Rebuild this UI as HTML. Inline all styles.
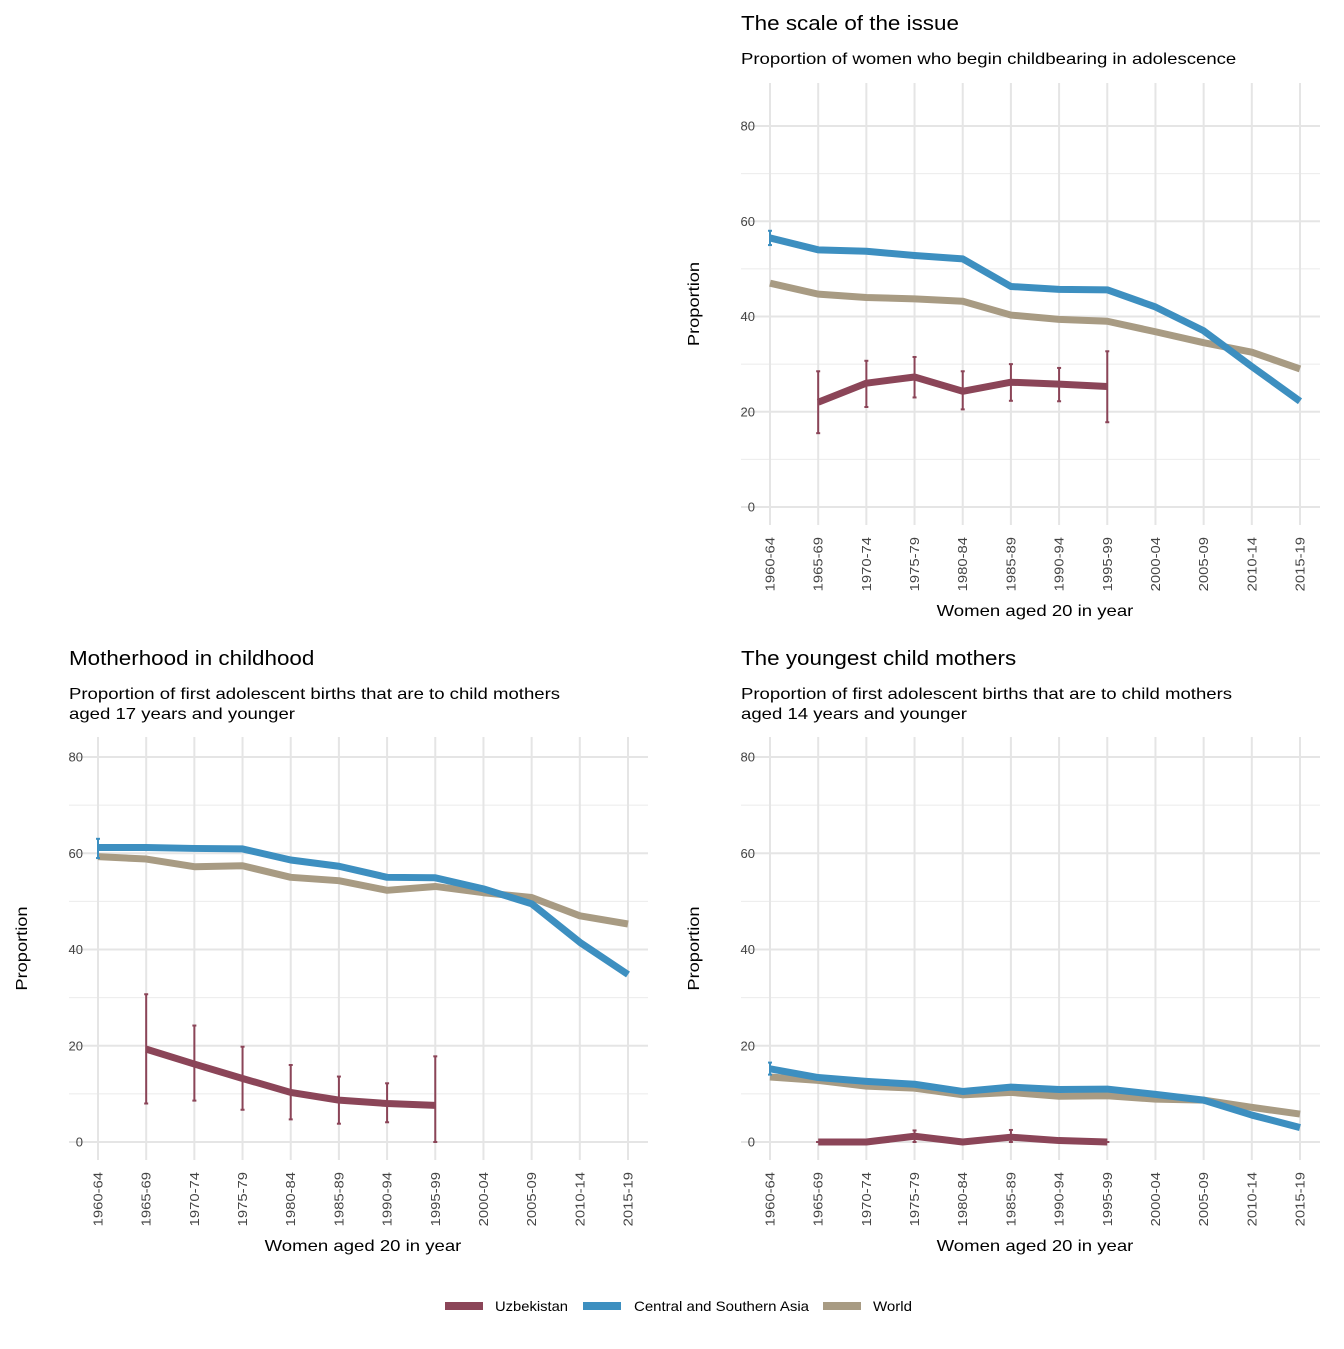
<!DOCTYPE html>
<html><head><meta charset="utf-8"><style>
body{margin:0;background:#fff}
svg{font-family:"Liberation Sans",Arial,sans-serif}
</style></head><body>
<svg id="c" width="1344" height="1344" viewBox="0 0 1344 1344"></svg>
<script>
const categories=["1960-64","1965-69","1970-74","1975-79","1980-84","1985-89","1990-94","1995-99","2000-04","2005-09","2010-14","2015-19"];
const yTicks=[0,20,40,60,80];
const p1CSA=[56.5,54,53.7,52.8,52.1,46.3,45.7,45.6,42,37,29.5,22.2];
const p1World=[47,44.7,44,43.7,43.2,40.3,39.4,39,36.8,34.5,32.5,29];
const p1Uzb=[null,22,26,27.3,24.3,26.2,25.8,25.3];
const p1UzbLo=[null,15.5,21,23,20.5,22.3,22.2,17.8];
const p1UzbHi=[null,28.5,30.7,31.5,28.5,30,29.2,32.7];
const p1CSAErr=[55,58];
const p2CSA=[61.2,61.2,61,60.9,58.6,57.3,55,54.9,52.6,49.5,41.5,34.8];
const p2World=[59.3,58.8,57.2,57.4,55,54.3,52.3,53.1,51.8,50.8,47,45.3];
const p2Uzb=[null,19.3,16.2,13.2,10.3,8.7,8,7.6];
const p2UzbLo=[null,8,8.6,6.7,4.7,3.8,4.1,0];
const p2UzbHi=[null,30.7,24.2,19.8,16,13.6,12.2,17.8];
const p2CSAErr=[59,63];
const p3CSA=[15.2,13.4,12.6,12,10.5,11.4,10.9,11,9.9,8.7,5.6,3];
const p3World=[13.5,12.8,11.6,11.2,9.8,10.3,9.5,9.6,8.9,8.7,7.2,5.8];
const p3Uzb=[null,0,0,1.2,0,1,0.3,0];
const p3UzbLo=[null,0,0,0,0,0,0,0];
const p3UzbHi=[null,0,0,2.4,0,2.5,0.5,0];
const p3CSAErr=[14,16.5];

const C={uzb:"#8b4558",csa:"#3d8fc0",world:"#a89b83"};
const svg=document.getElementById('c');
const NS="http://www.w3.org/2000/svg";
function mk(tag,attrs,parent,name){const e=document.createElementNS(NS,tag);for(const k in attrs)e.setAttribute(k,attrs[k]);


(parent||svg).appendChild(e);return e;}
function txt(s,attrs,parent,name,k,abs){const e=mk('text',attrs,parent,name);e.textContent=s;
 const w=e.getComputedTextLength();if(w>0){e.setAttribute('textLength',abs||w*(k||1.14));e.setAttribute('lengthAdjust','spacingAndGlyphs');}
 return e;}

function panel(o){
 const g=mk('g',{},svg,o.name);
 const x=i=>o.x0+i*(o.x1-o.x0)/11;
 const y=v=>o.y0-v*(o.y0-o.y80)/80;
 txt(o.title,{x:o.tx,y:o.ty,"font-size":20,fill:"#000"},g,'panel-title',1.12);
 o.sub.forEach((s,i)=>txt(s,{x:o.tx,y:o.ty+34+i*20,"font-size":16,fill:"#000"},g,'panel-subtitle',1.16));
 const top=o.gtop,bot=o.y0+18;
 for(let v=10;v<=90;v+=20){if(y(v)<top)continue;mk('line',{x1:o.tx,x2:o.x1+20,y1:y(v),y2:y(v),stroke:"#ebebeb","stroke-width":1},g,'minor-gridline');}
 yTicks.forEach(v=>{mk('line',{x1:o.tx,x2:o.x1+20,y1:y(v),y2:y(v),stroke:"#e5e5e5","stroke-width":2},g,'major-gridline');
  txt(String(v),{x:o.tx+14,y:y(v)+4.5,"font-size":13,fill:"#444","text-anchor":"end"},g,'y-tick-label',1);});
 categories.forEach((c,i)=>{mk('line',{x1:x(i),x2:x(i),y1:top,y2:bot,stroke:"#e5e5e5","stroke-width":2},g,'vertical-gridline');
  txt(c,{x:0,y:0,"font-size":13,fill:"#444","text-anchor":"end",transform:`translate(${x(i)+4.5},${o.y0+30}) rotate(-90)`},g,'x-tick-label',1.14);});
 txt("Proportion",{x:0,y:0,"font-size":16,fill:"#000","text-anchor":"middle",transform:`translate(${o.tx-42},${(top+bot)/2}) rotate(-90)`},g,'y-axis-title',1.14);
 txt("Women aged 20 in year",{x:(o.x0+o.x1)/2,y:o.y0+109,"font-size":16,fill:"#000","text-anchor":"middle"},g,'x-axis-title',1.16);
 function line(vals,col,nm){let d="";vals.forEach((v,i)=>{if(v==null)return;d+=(d?"L":"M")+x(i)+","+y(v);});
  mk('path',{d,fill:"none",stroke:col,"stroke-width":7,"stroke-linejoin":"round"},g,nm);}
 function err(i,lo,hi,col,nm){mk('line',{x1:x(i),x2:x(i),y1:y(lo),y2:y(hi),stroke:col,"stroke-width":2},g,nm);
  [lo,hi].forEach(v=>mk('line',{x1:x(i)-2,x2:x(i)+2,y1:y(v),y2:y(v),stroke:col,"stroke-width":2},g,nm+'-cap'));}
 line(o.world,C.world,'world-line');
 line(o.csa,C.csa,'csa-line');
 err(0,o.csaErr[0],o.csaErr[1],C.csa,'csa-error-bar');
 o.lo.forEach((v,i)=>{if(v!=null)err(i,v,o.hi[i],C.uzb,'uzbekistan-error-bar');});
 line(o.uzb,C.uzb,'uzbekistan-line');
}
panel({name:'panel-scale-of-issue',title:"The scale of the issue",sub:["Proportion of women who begin childbearing in adolescence"],tx:741,ty:30,x0:770,x1:1300,y0:507,y80:126,gtop:83,csa:p1CSA,world:p1World,uzb:p1Uzb,lo:p1UzbLo,hi:p1UzbHi,csaErr:p1CSAErr});
panel({name:'panel-motherhood-in-childhood',title:"Motherhood in childhood",sub:["Proportion of first adolescent births that are to child mothers","aged 17 years and younger"],tx:69,ty:665,x0:98,x1:628,y0:1142,y80:757,gtop:737,csa:p2CSA,world:p2World,uzb:p2Uzb,lo:p2UzbLo,hi:p2UzbHi,csaErr:p2CSAErr});
panel({name:'panel-youngest-child-mothers',title:"The youngest child mothers",sub:["Proportion of first adolescent births that are to child mothers","aged 14 years and younger"],tx:741,ty:665,x0:770,x1:1300,y0:1142,y80:757,gtop:737,csa:p3CSA,world:p3World,uzb:p3Uzb,lo:p3UzbLo,hi:p3UzbHi,csaErr:p3CSAErr});

const lg=mk('g',{},svg,'legend');
[["Uzbekistan",C.uzb,445,495,73],["Central and Southern Asia",C.csa,583,634,175],["World",C.world,823,873,39]].forEach(([t,c,x,tx,w])=>{
 const e=mk('g',{},lg,'legend-entry');
 mk('line',{x1:x,x2:x+38,y1:1306,y2:1306,stroke:c,"stroke-width":8},e,'legend-swatch');
 txt(t,{x:tx,y:1311,"font-size":14,fill:"#000"},e,'legend-label',1,w);
});
</script>
</body></html>
